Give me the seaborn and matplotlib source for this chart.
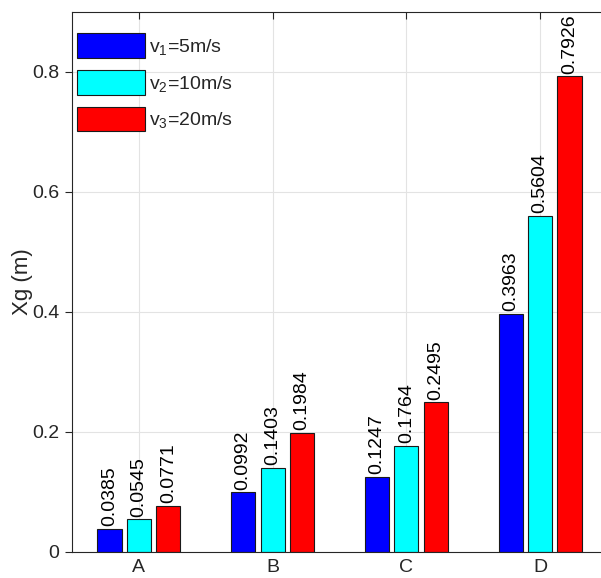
import matplotlib
matplotlib.use("Agg")
import matplotlib.pyplot as plt
import seaborn as sns
import pandas as pd

categories = ["A", "B", "C", "D"]
series_names = ["v$_1$=5m/s", "v$_2$=10m/s", "v$_3$=20m/s"]
v1 = [0.0385, 0.0992, 0.1247, 0.3963]
v2 = [0.0545, 0.1403, 0.1764, 0.5604]
v3 = [0.0771, 0.1984, 0.2495, 0.7926]
label_text = [["0.0385", "0.0992", "0.1247", "0.3963"],
              ["0.0545", "0.1403", "0.1764", "0.5604"],
              ["0.0771", "0.1984", "0.2495", "0.7926"]]
colors = ["#0000FF", "#00FFFF", "#FF0000"]

rows = []
for name, vals in zip(series_names, [v1, v2, v3]):
    for c, v in zip(categories, vals):
        rows.append({"cat": c, "series": name, "val": v})
df = pd.DataFrame(rows)

sns.set_theme(style="white")
plt.rcParams["font.family"] = ["Liberation Sans", "DejaVu Sans"]
plt.rcParams["mathtext.fontset"] = "custom"
plt.rcParams["mathtext.rm"] = "Liberation Sans"
plt.rcParams["mathtext.it"] = "Liberation Sans"

fig = plt.figure(figsize=(6.01, 5.78), dpi=100)
ax = fig.add_axes([72/601, 26/578, 535/601, 540/578])

sns.barplot(data=df, x="cat", y="val", hue="series", palette=colors,
            width=0.66, gap=0.18, edgecolor="#1a1a1a", linewidth=0.8,
            saturation=1, ax=ax, errorbar=None)

for cont, labs in zip(ax.containers, label_text):
    ax.bar_label(cont, labels=labs, rotation=90, padding=2, fontsize=14, color="#000000")

ax.set_xlim(-0.5, 3.5)
ax.set_ylim(0, 0.9)
ax.set_yticks([0, 0.2, 0.4, 0.6, 0.8])
ax.set_yticklabels(["0", "0.2", "0.4", "0.6", "0.8"])
ax.set_xlabel("")
ax.set_ylabel("Xg (m)", fontsize=16, color="#262626")
ax.yaxis.set_label_coords(-0.073, 0.5)
ax.grid(True, color="#e3e3e3", linewidth=0.8)
ax.set_axisbelow(True)
for s in ax.spines.values():
    s.set_color("#262626")
    s.set_linewidth(0.8)
ax.tick_params(axis="x", direction="in", top=True, bottom=True, length=5,
               labelsize=14, colors="#262626", width=0.8, pad=5)
ax.tick_params(axis="y", direction="out", left=True, length=5,
               labelsize=14, colors="#262626", width=0.8, pad=4)

leg = ax.legend(loc="upper left", bbox_to_anchor=(5/535, 1 - 21/540), frameon=False,
                fontsize=14, handlelength=3.5, handleheight=1.58,
                labelspacing=0.62, handletextpad=0.2, borderaxespad=0, borderpad=0)

fig.savefig("out.png", dpi=100)
